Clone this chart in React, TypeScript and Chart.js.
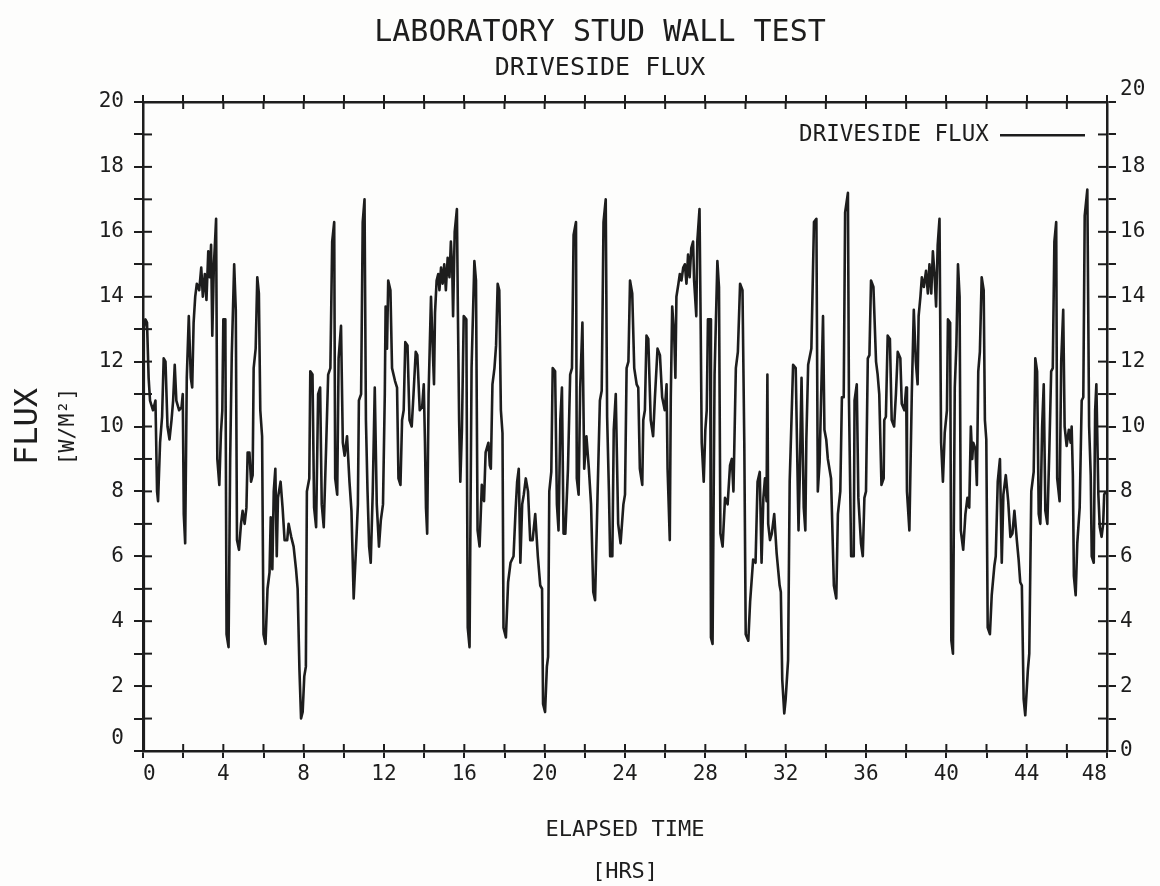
import React, { useEffect, useRef } from 'react';
import { Chart, registerables } from 'chart.js';

Chart.register(...registerables);

// ---------- text ----------
const TITLE = 'LABORATORY STUD WALL TEST';
const SUBTITLE = 'DRIVESIDE FLUX';
const SERIES_LABEL = 'DRIVESIDE FLUX';
const Y_NAME = 'FLUX';
const Y_UNITS = '[W/M²]';
const X_TITLE = ['ELAPSED TIME', '[HRS]'];

// ---------- axes ----------
const X_MIN = 0;
const X_MAX = 48;
const X_TICK_STEP = 2;
const X_LABEL_EVERY = 4;
const Y_MIN = 0;
const Y_MAX = 20;
const Y_TICK_STEP = 1;
const Y_LABEL_EVERY = 2;

// ---------- data (elapsed hours / flux W/m2) ----------
const hoursA = [0.00,0.04,0.12,0.20,0.28,0.35,0.50,0.62,0.70,0.75,
  0.85,0.95,1.03,1.12,1.22,1.32,1.42,1.50,1.58,1.66,
  1.80,1.92,1.98,2.03,2.10,2.18,2.28,2.38,2.45,2.52,
  2.60,2.68,2.80,2.90,2.98,3.08,3.16,3.25,3.32,3.39,
  3.45,3.53,3.58,3.64,3.70,3.80,3.88,3.95,4.00,4.10,
  4.16,4.26,4.34,4.42,4.54,4.62,4.68,4.78,4.88,4.96,
  5.06,5.15,5.21,5.30,5.38,5.46,5.51,5.61,5.69,5.77,
  5.84,5.93,6.00,6.10,6.20,6.30,6.36,6.44,6.51,6.59,
  6.66,6.72,6.85,6.95,7.05,7.18,7.25,7.38,7.50,7.62,
  7.70,7.79,7.87,7.95,8.03,8.11,8.16,8.28,8.33,8.44,
  8.52,8.62,8.72,8.82,8.90,9.00,9.12,9.22,9.33,9.42,
  9.52,9.57,9.67,9.74,9.86,9.95,10.04,10.16,10.28,10.38,
  10.49,10.61,10.70,10.75,10.86,10.94,11.03,11.10,11.18,11.26,
  11.34,11.44,11.54,11.64,11.75,11.84,11.95];
const fluxA = [0.0,13.0,13.3,13.2,11.5,10.8,10.5,10.8,8.0,7.7,
  9.5,10.3,12.1,12.0,10.0,9.6,10.2,10.8,11.9,10.8,
  10.5,10.6,11.0,7.3,6.4,11.5,13.4,11.5,11.2,13.2,
  14.0,14.4,14.2,14.9,14.0,14.7,13.9,15.4,14.6,15.6,
  12.8,15.0,15.6,16.4,9.0,8.2,9.8,10.5,13.3,13.3,
  3.6,3.2,9.0,12.2,15.0,13.6,6.5,6.2,7.0,7.4,
  7.0,7.5,9.2,9.2,8.3,8.5,11.8,12.4,14.6,14.1,
  10.5,9.7,3.6,3.3,5.0,5.5,7.2,5.6,8.0,8.7,
  6.0,7.8,8.3,7.5,6.5,6.5,7.0,6.6,6.3,5.6,
  5.0,2.5,1.0,1.2,2.3,2.6,8.0,8.4,11.7,11.6,
  7.5,6.9,11.0,11.2,7.6,6.9,9.4,11.6,11.8,15.7,
  16.3,8.4,7.9,12.1,13.1,9.5,9.1,9.7,8.3,7.4,
  4.7,6.3,7.6,10.8,11.0,16.3,17.0,10.2,8.0,6.3,
  5.8,8.0,11.2,7.6,6.3,7.1,7.6];

const hoursB = [12.04,12.08,12.15,12.21,12.32,12.40,12.55,12.65,12.72,12.82,
  12.90,12.98,13.06,13.17,13.27,13.38,13.47,13.58,13.66,13.78,
  13.90,13.98,14.04,14.09,14.15,14.22,14.28,14.34,14.42,14.49,
  14.54,14.62,14.70,14.76,14.84,14.92,15.00,15.08,15.17,15.26,
  15.33,15.40,15.44,15.52,15.63,15.68,15.74,15.80,15.88,15.97,
  16.10,16.17,16.26,16.36,16.50,16.58,16.66,16.76,16.87,16.98,
  17.06,17.20,17.27,17.32,17.40,17.50,17.58,17.66,17.74,17.82,
  17.90,17.95,18.07,18.18,18.30,18.45,18.55,18.63,18.71,18.79,
  18.88,18.96,19.06,19.17,19.28,19.40,19.53,19.66,19.78,19.87,
  19.92,20.02,20.11,20.17,20.23,20.33,20.40,20.52,20.61,20.69,
  20.78,20.86,20.94,21.03,21.16,21.27,21.36,21.44,21.56,21.60,
  21.69,21.77,21.88,21.97,22.08,22.20,22.31,22.42,22.51,22.63,
  22.75,22.84,22.93,23.04,23.11,23.20,23.26,23.37,23.44,23.54,
  23.66,23.78,23.92,24.00];
const fluxB = [11.0,13.7,12.4,14.5,14.2,11.8,11.4,11.2,8.4,8.2,
  10.2,10.5,12.6,12.5,10.2,10.0,11.0,12.3,12.2,10.5,
  10.6,11.3,9.5,7.5,6.7,11.0,12.5,14.0,12.5,11.3,
  13.5,14.5,14.7,14.2,14.9,14.4,15.0,14.2,15.2,14.6,
  15.7,14.8,13.4,16.0,16.7,13.5,10.2,8.3,9.9,13.4,
  13.3,3.8,3.2,11.8,15.1,14.5,6.8,6.3,8.2,7.7,
  9.2,9.5,8.8,8.7,11.3,11.8,12.5,14.4,14.2,10.5,
  9.8,3.8,3.5,5.2,5.8,6.0,7.4,8.3,8.7,5.8,
  7.6,7.9,8.4,8.0,6.5,6.5,7.3,6.0,5.1,5.0,
  1.45,1.2,2.6,2.9,8.0,8.6,11.8,11.7,7.6,6.8,
  10.2,11.2,6.7,6.7,8.7,11.6,11.8,15.9,16.3,8.4,
  7.9,11.2,13.2,8.7,9.7,8.7,7.6,4.9,4.65,7.8,
  10.8,11.1,16.3,17.0,10.3,8.0,6.0,6.0,9.9,11.0,
  7.0,6.4,7.6,7.9];

const hoursC = [24.08,24.17,24.25,24.36,24.46,24.58,24.66,24.74,24.86,24.91,
  24.99,25.07,25.16,25.28,25.40,25.49,25.62,25.74,25.85,25.98,
  26.07,26.12,26.23,26.28,26.35,26.45,26.51,26.56,26.66,26.73,
  26.81,26.90,26.98,27.06,27.14,27.22,27.30,27.39,27.44,27.55,
  27.60,27.71,27.77,27.82,27.92,28.00,28.07,28.13,28.24,28.28,
  28.36,28.46,28.60,28.68,28.75,28.86,28.98,29.11,29.23,29.32,
  29.40,29.52,29.62,29.73,29.85,29.94,30.01,30.14,30.23,30.38,
  30.50,30.60,30.71,30.80,30.89,30.97,31.05,31.09,31.13,31.22,
  31.31,31.43,31.55,31.70,31.76,31.83,31.93,32.00,32.12,32.20,
  32.37,32.50,32.64,32.70,32.79,32.90,32.98,33.03,33.12,33.28,
  33.41,33.53,33.60,33.69,33.86,33.93,34.02,34.10,34.26,34.40,
  34.52,34.60,34.72,34.80,34.89,34.96,35.10,35.15,35.26,35.39,
  35.43,35.54,35.62,35.75,35.84,35.92,36.00];
const fluxC = [11.8,12.0,14.5,14.1,11.8,11.3,11.2,8.7,8.2,10.2,
  10.5,12.8,12.7,10.2,9.7,10.9,12.4,12.2,10.9,10.5,
  11.3,8.7,6.5,10.9,13.7,12.8,11.5,14.0,14.4,14.7,
  14.5,14.9,15.0,14.4,15.3,14.6,15.5,15.7,14.5,13.4,
  15.7,16.7,13.0,9.5,8.3,9.9,10.5,13.3,13.3,3.5,
  3.3,11.6,15.1,14.3,6.7,6.3,7.8,7.6,8.8,9.0,
  8.0,11.8,12.3,14.4,14.2,9.5,3.6,3.4,4.6,5.9,
  5.8,8.3,8.6,5.8,7.8,8.4,7.7,11.6,7.0,6.5,
  6.7,7.3,6.1,5.1,4.9,2.2,1.16,1.6,2.8,8.3,
  11.9,11.8,6.8,8.4,11.5,7.5,6.8,9.6,11.9,12.4,
  16.3,16.4,8.0,8.9,13.4,9.9,9.6,9.0,8.4,5.1,
  4.7,7.3,8.0,10.9,10.9,16.6,17.2,10.9,6.0,6.0,
  10.8,11.3,7.8,6.4,6.0,7.8,8.0];

const hoursD = [36.09,36.17,36.25,36.37,36.50,36.58,36.66,36.77,36.88,36.91,
  36.99,37.08,37.19,37.28,37.40,37.49,37.58,37.71,37.78,37.91,
  38.00,38.04,38.16,38.28,38.38,38.48,38.57,38.62,38.71,38.78,
  38.88,38.99,39.08,39.16,39.25,39.33,39.41,39.49,39.57,39.66,
  39.74,39.83,39.92,40.03,40.08,40.19,40.25,40.33,40.42,40.50,
  40.58,40.66,40.72,40.84,40.95,41.05,41.14,41.22,41.29,41.34,
  41.45,41.52,41.59,41.67,41.76,41.86,41.92,41.99,42.06,42.17,
  42.26,42.39,42.46,42.56,42.67,42.76,42.84,42.96,43.08,43.19,
  43.29,43.39,43.51,43.60,43.68,43.76,43.85,43.93,44.06,44.13,
  44.23,44.35,44.43,44.52,44.60,44.68,44.77,44.85,44.93,45.03,
  45.13,45.22,45.30,45.38,45.47,45.52,45.64,45.72,45.82,45.89,
  45.99,46.10,46.19,46.24,46.30,46.35,46.44,46.52,46.64,46.74,
  46.82,46.89,47.02,47.11,47.19,47.24,47.34,47.41,47.47,47.57,
  47.64,47.73,47.81,47.86,47.94];
const fluxD = [12.1,12.2,14.5,14.3,12.0,11.6,11.0,8.2,8.4,10.2,
  10.3,12.8,12.7,10.2,10.0,11.0,12.3,12.1,10.7,10.5,
  11.2,8.0,6.8,11.0,13.6,12.0,11.3,13.4,14.0,14.6,
  14.3,14.8,14.1,15.0,14.1,15.4,14.7,13.7,15.6,16.4,
  9.5,8.3,9.8,10.5,13.3,13.2,3.4,3.0,11.2,12.5,
  15.0,14.0,6.8,6.2,7.3,7.8,7.5,10.0,9.0,9.5,
  9.3,8.2,11.7,12.3,14.6,14.2,10.2,9.6,3.8,3.6,
  4.8,5.7,6.0,8.3,9.0,5.8,7.9,8.5,7.7,6.6,
  6.7,7.4,6.5,5.9,5.2,5.1,1.6,1.1,2.5,3.0,
  8.0,8.6,12.1,11.7,7.3,7.0,10.0,11.3,7.4,7.0,
  9.3,11.7,11.8,15.7,16.3,8.4,7.7,12.0,13.6,10.0,
  9.4,9.9,9.5,10.0,8.5,5.4,4.8,6.4,7.5,10.8,
  10.9,16.5,17.3,10.0,8.5,6.0,5.8,10.5,11.3,7.9,
  6.9,6.6,7.0,7.9,8.0];

const elapsedHours = [...hoursA, ...hoursB, ...hoursC, ...hoursD];
const driveFlux = [...fluxA, ...fluxB, ...fluxC, ...fluxD];

// ---------- style ----------
const INK = '#1d1d1d';
const PAPER = '#fdfdfc';
const FONT = "'DejaVu Sans Mono', 'Liberation Mono', monospace";

const paperBg = {
  id: 'paperBg',
  beforeDraw(chart: any) {
    const { ctx, width, height } = chart;
    ctx.save();
    ctx.fillStyle = PAPER;
    ctx.fillRect(0, 0, width, height);
    ctx.restore();
  },
};

// tick marks that cross the frame: draw the inner half of every tick
const crossTicks = {
  id: 'crossTicks',
  afterDraw(chart: any) {
    const { ctx, chartArea: a } = chart;
    ctx.save();
    ctx.strokeStyle = INK;
    ctx.lineWidth = 2;
    const vert = [['y', a.left, 9], ['y2', a.right, -9]];
    vert.forEach(([id, x0, d]: any) => {
      const s = chart.scales[id];
      s.ticks.forEach((t: any) => {
        const py = s.getPixelForValue(t.value);
        ctx.beginPath();
        ctx.moveTo(x0, py);
        ctx.lineTo(x0 + d, py);
        ctx.stroke();
      });
    });
    const horiz = [['x', a.bottom, -7], ['x2', a.top, 7]];
    horiz.forEach(([id, y0, d]: any) => {
      const s = chart.scales[id];
      s.ticks.forEach((t: any) => {
        const px = s.getPixelForValue(t.value);
        ctx.beginPath();
        ctx.moveTo(px, y0);
        ctx.lineTo(px, y0 + d);
        ctx.stroke();
      });
    });
    ctx.restore();
  },
};

// put the in-plot legend at the top right corner of the plot area
const legendRight = {
  id: 'legendRight',
  afterLayout(chart: any) {
    const lg = chart.legend;
    if (!lg) return;
    const a = chart.chartArea;
    const w = lg.width;
    const h = lg.height;
    lg.left = a.right - w;
    lg.right = a.right;
    lg.top = a.top;
    lg.bottom = a.top + h;
  },
};

const tickFont = { family: FONT, size: 21, weight: 'normal' as const };

function frameAxis(extra: any) {
  return {
    type: 'linear',
    border: { display: true, color: INK, width: 2.5 },
    ...extra,
  };
}

function frameGrid(len: number) {
  return {
    display: true,
    drawOnChartArea: false,
    drawTicks: true,
    color: INK,
    lineWidth: 2,
    tickColor: INK,
    tickWidth: 2,
    tickLength: len,
  };
}

export default function App() {
  const ref = useRef<HTMLCanvasElement | null>(null);

  useEffect(() => {
    if (!ref.current) return;
    const points = elapsedHours.map((h, i) => ({ x: h, y: driveFlux[i] }));
    const chart = new Chart(ref.current, {
      type: 'line',
      data: {
        datasets: [
          {
            label: SERIES_LABEL,
            data: points,
            borderColor: INK,
            backgroundColor: INK,
            borderWidth: 2.6,
            pointRadius: 0,
            tension: 0,
            fill: false,
            borderJoinStyle: 'round',
            xAxisID: 'x',
            yAxisID: 'y',
          } as any,
        ],
      },
      options: {
        responsive: false,
        animation: false,
        events: [],
        layout: { padding: 0 },
        plugins: {
          title: {
            display: true,
            text: TITLE,
            color: INK,
            font: { family: FONT, size: 30, weight: 'normal', lineHeight: 1.2 },
            padding: { top: 15, bottom: 0 },
          },
          subtitle: {
            display: true,
            text: SUBTITLE,
            color: INK,
            font: { family: FONT, size: 25, weight: 'normal', lineHeight: 1.2 },
            padding: { top: 2, bottom: 0 },
          },
          legend: {
            display: true,
            position: 'chartArea',
            align: 'start',
            rtl: true,
            textDirection: 'ltr',
            labels: {
              color: INK,
              font: { family: FONT, size: 22.5, weight: 'normal' },
              usePointStyle: true,
              pointStyle: 'line',
              pointStyleWidth: 85,
              padding: 22,
            },
          },
          tooltip: { enabled: false },
        },
        scales: {
          x: frameAxis({
            position: 'bottom',
            min: X_MIN,
            max: X_MAX,
            grid: frameGrid(7),
            ticks: {
              stepSize: X_TICK_STEP,
              autoSkip: false,
              maxRotation: 0,
              align: 'inner',
              padding: 4,
              color: INK,
              font: tickFont,
              callback: (v: number) => (v % X_LABEL_EVERY === 0 ? String(v) : ''),
            },
            title: {
              display: true,
              text: X_TITLE,
              color: INK,
              font: { family: FONT, size: 22, weight: 'normal', lineHeight: 1.9 },
              padding: { top: 0, bottom: 7 },
            },
            afterFit: (s: any) => { s.height = 149; },
          }),
          x2: frameAxis({
            position: 'top',
            min: X_MIN,
            max: X_MAX,
            grid: frameGrid(7),
            ticks: { stepSize: X_TICK_STEP, autoSkip: false, display: false },
            afterFit: (s: any) => { s.height = 19; },
          }),
          y: frameAxis({
            position: 'left',
            weight: 0,
            min: Y_MIN,
            max: Y_MAX,
            grid: frameGrid(9),
            ticks: {
              stepSize: Y_TICK_STEP,
              autoSkip: false,
              padding: 10,
              color: INK,
              font: tickFont,
              // the lowest label sits a little above its tick, clear of the x labels
              callback: (v: number) =>
                v % Y_LABEL_EVERY !== 0 ? '' : v === Y_MIN ? [String(v), ''] : String(v),
            },
            afterFit: (s: any) => { s.width = 58; },
          }),
          yUnits: {
            type: 'linear',
            position: 'left',
            weight: 1,
            grid: { display: false },
            border: { display: false },
            ticks: { display: false },
            title: {
              display: true,
              text: Y_UNITS,
              color: INK,
              font: { family: FONT, size: 21.5, weight: 'normal', lineHeight: 1.2 },
              padding: { top: 8, bottom: 0 },
            },
            afterFit: (s: any) => { s.width = 37; },
          },
          yName: {
            type: 'linear',
            position: 'left',
            weight: 2,
            grid: { display: false },
            border: { display: false },
            ticks: { display: false },
            title: {
              display: true,
              text: Y_NAME,
              color: INK,
              font: { family: FONT, size: 32, weight: 'normal', lineHeight: 1.2 },
              padding: { top: 9, bottom: 0 },
            },
            afterFit: (s: any) => { s.width = 48; },
          },
          y2: frameAxis({
            position: 'right',
            min: Y_MIN,
            max: Y_MAX,
            grid: frameGrid(9),
            ticks: {
              stepSize: Y_TICK_STEP,
              autoSkip: false,
              padding: 4,
              color: INK,
              font: tickFont,
              // the top label sits a little above the frame corner
              callback: (v: number) =>
                v % Y_LABEL_EVERY !== 0 ? '' : v === Y_MAX ? [String(v), ''] : String(v),
            },
            afterFit: (s: any) => { s.width = 93; },
          }),
        } as any,
      },
      plugins: [paperBg, crossTicks, legendRight],
    });
    return () => chart.destroy();
  }, []);

  return (
    <div
      style={{
        position: 'absolute',
        left: 0,
        top: 0,
        width: 1160,
        height: 886,
        overflow: 'hidden',
        background: PAPER,
      }}
    >
      <canvas ref={ref} width={1200} height={900} style={{ display: 'block', width: 1200, height: 900 }} />
    </div>
  );
}
